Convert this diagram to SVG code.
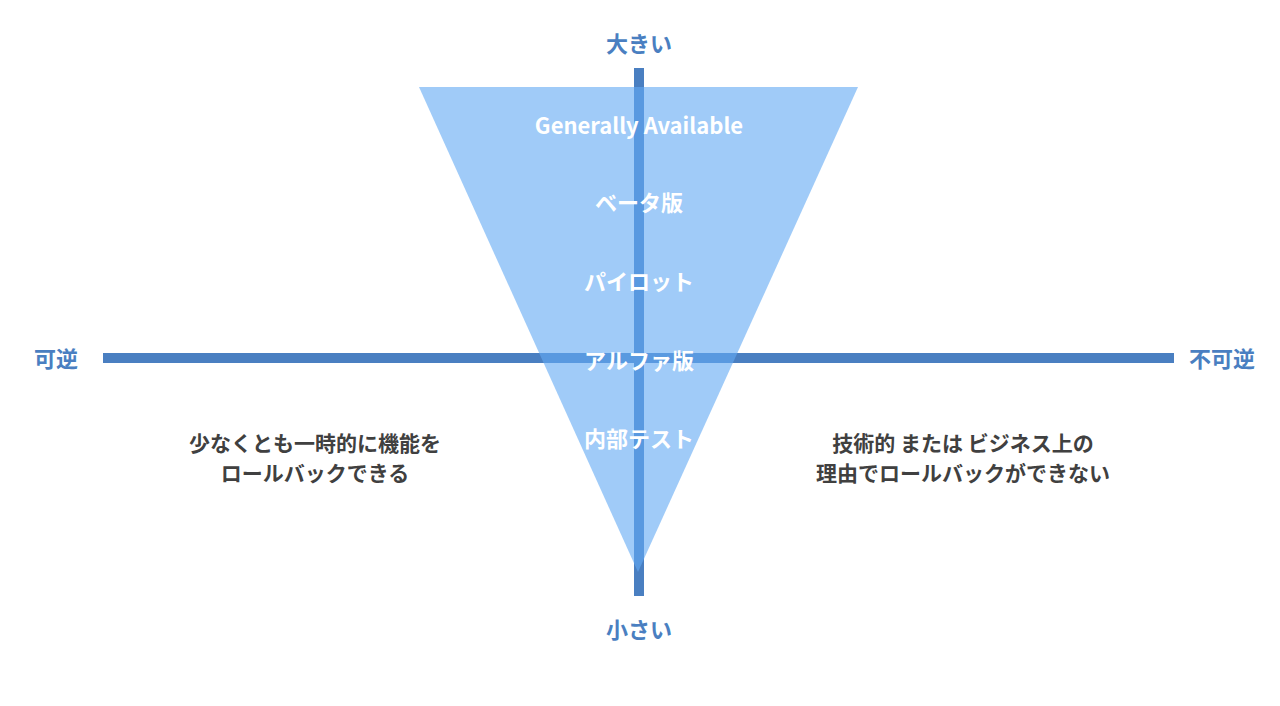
<svg xmlns="http://www.w3.org/2000/svg" width="1280" height="706" viewBox="0 0 1280 706">
<style>
.ax{fill:#4a7fc1}
.al{font-family:"Noto Sans CJK JP","Noto Sans",sans-serif;font-size:22px;font-weight:bold;fill:#4a7fc1;text-anchor:middle}
.in{font-family:"Noto Sans CJK JP","Noto Sans",sans-serif;font-size:22px;font-weight:bold;fill:#fff;text-anchor:middle}
.ds{font-family:"Noto Sans CJK JP","Noto Sans",sans-serif;font-size:21px;font-weight:bold;fill:#404040;text-anchor:middle}
</style>
<rect width="1280" height="706" fill="#fff"/>
<g id="axes">
<rect class="ax" x="634" y="68" width="10" height="528"/>
<rect class="ax" x="103" y="353" width="1071" height="10"/>
</g>
<g id="triangle"><polygon points="419,87 858,87 638,572" fill="#64aaf3" fill-opacity="0.61"/></g>
<g id="stages">
<text class="in" x="639" y="134" font-family="Liberation Sans">Generally Available</text>
<text class="in" x="639" y="211">ベータ版</text>
<text class="in" x="639" y="290">パイロット</text>
<text class="in" x="639" y="369">アルファ版</text>
<text class="in" x="639" y="447">内部テスト</text>
</g>
<g id="labels">
<text class="al" x="639" y="52">大きい</text>
<text class="al" x="639" y="638">小さい</text>
<text class="al" x="56" y="367">可逆</text>
<text class="al" x="1222" y="367">不可逆</text>
</g>
<g id="notes">
<text class="ds" x="315" y="451">少なくとも一時的に機能を</text>
<text class="ds" x="315" y="481">ロールバックできる</text>
<text class="ds" x="963" y="451">技術的 または ビジネス上の</text>
<text class="ds" x="963" y="481">理由でロールバックができない</text>
</g>
</svg>
